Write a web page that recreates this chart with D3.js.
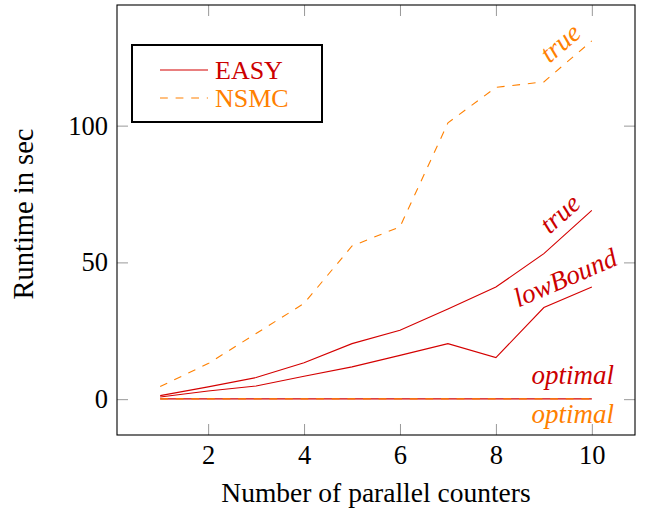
<!DOCTYPE html>
<meta charset="utf-8">
<script src="https://cdnjs.cloudflare.com/ajax/libs/d3/7.8.5/d3.min.js"></script>
<style>
  body { margin: 0; background: #fff; }
  text { font-family: "Liberation Serif", "Times New Roman", serif; }
</style>
<div id="chart"></div>
<script>

// values
var counters = [1, 2, 3, 4, 5, 6, 7, 8, 9, 10];
var easyTrue = [1.3, 4.5, 7.9, 13.3, 20.3, 25.2, 33, 41, 53.2, 69];
var easyLowBound = [0.8, 3.0, 4.8, 8.4, 11.8, 16, 20.3, 15.2, 33.5, 41];
var easyOptimal = [0.1, 0.1, 0.1, 0.1, 0.1, 0.1, 0.1, 0.1, 0.1, 0.1];
var nsmcTrue = [4.6, 13, 24, 35, 56, 63, 101, 114, 116, 131];
var nsmcOptimal = [0.1, 0.1, 0.1, 0.1, 0.1, 0.1, 0.1, 0.1, 0.1, 0.1];
var xTicks = [2, 4, 6, 8, 10];
var yTicks = [0, 50, 100];

var red = "#d40000", orange = "#ff8000";

var series = [
  {name: "EASY", values: easyTrue, label: "true", side: "above", color: red, dash: null},
  {name: "EASY", values: easyLowBound, label: "lowBound", side: "above", color: red, dash: null},
  {name: "EASY", values: easyOptimal, label: "optimal", side: "above", color: red, dash: null},
  {name: "NSMC", values: nsmcTrue, label: "true", side: "above", color: orange, dash: "7.8,7.8"},
  {name: "NSMC", values: nsmcOptimal, label: "optimal", side: "below", color: orange, dash: "7.8,7.8"}
];

var margin = {top: 5, right: 15, bottom: 75, left: 117},
    width = 650 - margin.left - margin.right,
    height = 510 - margin.top - margin.bottom;

var svg = d3.select("#chart")
  .append("svg")
    .attr("width", 650)
    .attr("height", 510)
  .append("g")
    .attr("transform", "translate(" + margin.left + "," + margin.top + ")");

var x = d3.scaleLinear().domain([0.1, 10.9]).range([0, width]);
var y = d3.scaleLinear().domain([-13.1, 144.1]).range([height, 0]);

// ticks, inside on all four sides
svg.append("g")
  .attr("class", "axis")
  .attr("transform", "translate(0," + height + ")")
  .call(d3.axisBottom(x).tickValues(xTicks).tickSize(-11).tickPadding(10));
svg.append("g")
  .attr("class", "axis")
  .call(d3.axisTop(x).tickValues(xTicks).tickSize(-11).tickFormat(""));
svg.append("g")
  .attr("class", "axis")
  .call(d3.axisLeft(y).tickValues(yTicks).tickSize(-11).tickPadding(9));
svg.append("g")
  .attr("class", "axis")
  .attr("transform", "translate(" + width + ",0)")
  .call(d3.axisRight(y).tickValues(yTicks).tickSize(-11).tickFormat(""));

svg.selectAll(".axis .domain").remove();
svg.selectAll(".axis line").attr("stroke", "#999").attr("stroke-width", 1);
svg.selectAll(".axis text")
  .attr("fill", "#000")
  .style("font-size", "26.5px")
  .style("font-family", "'Liberation Serif', serif");

var line = d3.line()
  .x(function(d, i) { return x(counters[i]); })
  .y(function(d) { return y(d); });

svg.selectAll("path.series")
  .data(series)
  .enter()
  .append("path")
    .attr("class", "series")
    .attr("d", function(d) { return line(d.values); })
    .attr("fill", "none")
    .attr("stroke", function(d) { return d.color; })
    .attr("stroke-width", 1.1)
    .attr("stroke-dasharray", function(d) { return d.dash; });

// sloped labels on the last segment
var labelAt = 9.6;
series.forEach(function(s) {
  var n = counters.length;
  var x0 = x(counters[n - 2]), y0 = y(s.values[n - 2]);
  var x1 = x(counters[n - 1]), y1 = y(s.values[n - 1]);
  var t = (labelAt - counters[n - 2]) / (counters[n - 1] - counters[n - 2]);
  var px = x0 + t * (x1 - x0), py = y0 + t * (y1 - y0);
  var angle = Math.atan2(y1 - y0, x1 - x0) * 180 / Math.PI;
  var depth = /[gjpqy]/.test(s.label) ? 5 : 0;
  var off = s.side === "above" ? -(10 + depth) : 24;
  svg.append("text")
    .attr("transform", "translate(" + px + "," + py + ") rotate(" + angle + ")")
    .attr("y", off)
    .attr("text-anchor", "middle")
    .attr("fill", s.color === red ? "#cc0000" : orange)
    .style("font-size", "27px")
    .style("font-style", "italic")
    .text(s.label);
});

// frame
svg.append("rect")
  .attr("width", width)
  .attr("height", height)
  .attr("fill", "none")
  .attr("stroke", "#000")
  .attr("stroke-width", 1.1);

// legend
var legendItems = [
  {name: "EASY", color: red, text: "#cc0000", dash: null},
  {name: "NSMC", color: orange, text: orange, dash: "7.8,7.8"}
];
var legend = svg.append("g").attr("transform", "translate(15,40)");
legend.append("rect")
  .attr("width", 190)
  .attr("height", 77)
  .attr("fill", "#fff")
  .attr("stroke", "#000")
  .attr("stroke-width", 2);
var item = legend.selectAll("g.item")
  .data(legendItems)
  .enter()
  .append("g")
    .attr("transform", function(d, i) { return "translate(0," + (25 + i * 28) + ")"; });
item.append("line")
  .attr("x1", 28).attr("x2", 76)
  .attr("stroke", function(d) { return d.color; })
  .attr("stroke-width", 1.1)
  .attr("stroke-dasharray", function(d) { return d.dash; });
item.append("text")
  .attr("x", 83)
  .attr("y", 9)
  .attr("fill", function(d) { return d.text; })
  .style("font-size", "26px")
  .text(function(d) { return d.name; });

// axis titles
svg.append("text")
  .attr("x", width / 2)
  .attr("y", 497)
  .attr("text-anchor", "middle")
  .style("font-size", "27.5px")
  .text("Number of parallel counters");
svg.append("text")
  .attr("transform", "translate(" + (33 - margin.left) + "," + (height / 2 - 6) + ") rotate(-90)")
  .attr("text-anchor", "middle")
  .style("font-size", "28.5px")
  .text("Runtime in sec");

</script>
